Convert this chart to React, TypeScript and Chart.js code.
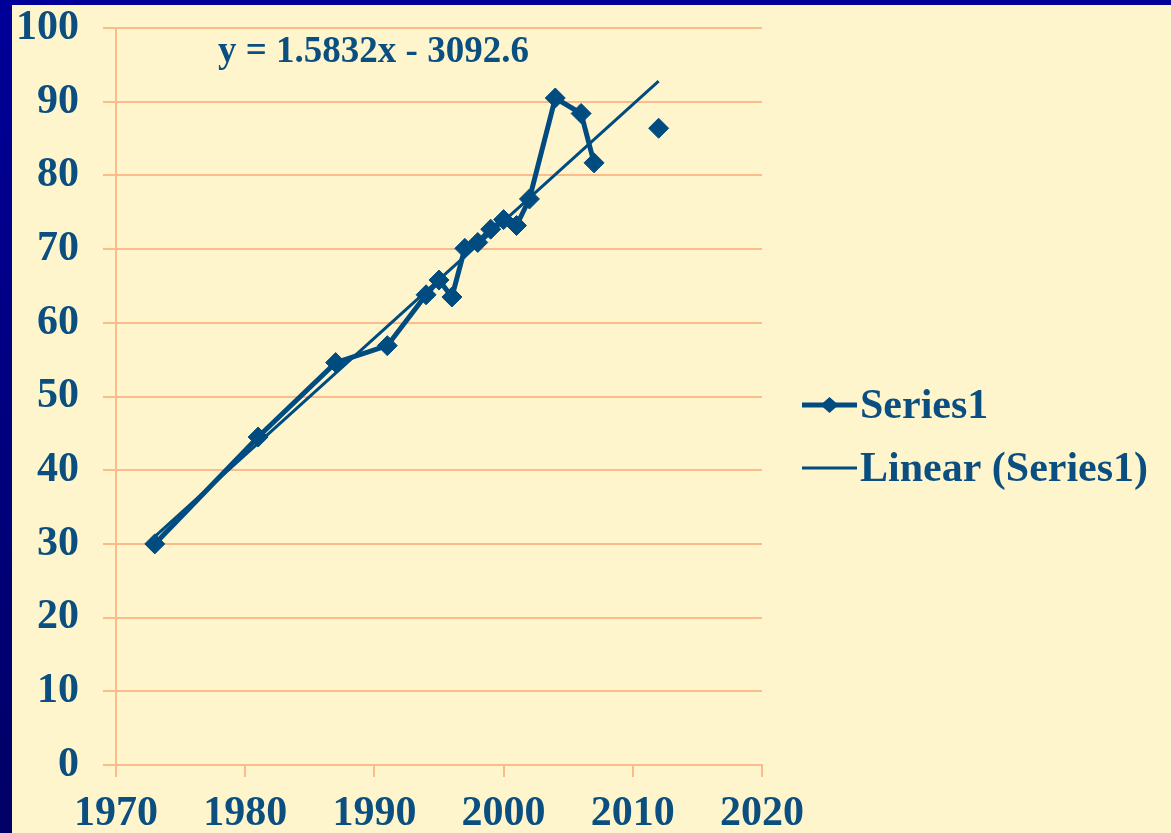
import React, { useEffect, useRef } from 'react';
import { Chart, registerables } from 'chart.js';

Chart.register(...registerables);

// ---- data ----
const years = [1973, 1981, 1987, 1991, 1994, 1995, 1996, 1997, 1998, 1999, 2000, 2001, 2002, 2004, 2006, 2007, 2009, 2012];
const values: (number | null)[] = [30.0, 44.5, 54.6, 56.9, 63.8, 65.8, 63.5, 70.1, 70.9, 72.7, 74.0, 73.2, 76.8, 90.5, 88.4, 81.7, null, 86.4];
const trendYears = [1973, 2012];
const trendValues = [31.0, 92.8];
const seriesLabel = 'Series1';
const trendLabel = 'Linear (Series1)';
const equationText = 'y = 1.5832x - 3092.6';
const xMin = 1970;
const xMax = 2020;
const xStep = 10;
const yMin = 0;
const yMax = 100;
const yStep = 10;

const W = 1171;
const H = 833;
const TEXT = '#0b4f80';
const LINE = '#004c80';
const GRID = '#fbbb8c';
const CREAM = '#fff5cd';
const FONT = '"Liberation Serif", "Times New Roman", serif';

const backgroundPlugin = {
  id: 'pptBackground',
  beforeDraw(chart: any) {
    const { ctx } = chart;
    ctx.save();
    const g = ctx.createLinearGradient(0, 0, 0, H);
    g.addColorStop(0, '#000099');
    g.addColorStop(1, '#000066');
    ctx.fillStyle = g;
    ctx.fillRect(0, 0, W, H);
    ctx.fillStyle = CREAM;
    ctx.fillRect(12, 5, W - 12, H - 5);
    ctx.restore();
  },
};

const legendPlugin = {
  id: 'customLegend',
  afterDraw(chart: any) {
    const { ctx, chartArea } = chart;
    const ds = chart.data.datasets;
    const lineX0 = chartArea.right + 40;
    const lineX1 = lineX0 + 55;
    const textX = lineX1 + 3;
    ctx.save();
    ctx.font = `bold 42px ${FONT}`;
    ctx.fillStyle = TEXT;
    ctx.textAlign = 'left';
    ctx.textBaseline = 'alphabetic';
    // Series1 entry
    let yMid = 405;
    ctx.strokeStyle = LINE;
    ctx.lineWidth = 5;
    ctx.beginPath();
    ctx.moveTo(lineX0, yMid);
    ctx.lineTo(lineX1, yMid);
    ctx.stroke();
    const cx = (lineX0 + lineX1) / 2;
    ctx.fillStyle = LINE;
    ctx.beginPath();
    ctx.moveTo(cx - 9, yMid);
    ctx.lineTo(cx, yMid - 8);
    ctx.lineTo(cx + 9, yMid);
    ctx.lineTo(cx, yMid + 8);
    ctx.closePath();
    ctx.fill();
    ctx.fillStyle = TEXT;
    ctx.fillText(ds[0].label, textX, 418);
    // Trend entry
    yMid = 468;
    ctx.lineWidth = 3;
    ctx.beginPath();
    ctx.moveTo(lineX0, yMid);
    ctx.lineTo(lineX1, yMid);
    ctx.stroke();
    ctx.fillText(ds[1].label, textX, 481);
    // Equation
    ctx.font = `bold 37px ${FONT}`;
    ctx.fillText(equationText, chartArea.left + 102, 62);
    ctx.restore();
  },
};

export default function App() {
  const ref = useRef<HTMLCanvasElement | null>(null);

  useEffect(() => {
    if (!ref.current) return;
    const chart = new Chart(ref.current, {
      type: 'line',
      data: {
        datasets: [
          {
            label: seriesLabel,
            data: years.map((x, i) => ({ x, y: values[i] })),
            borderColor: LINE,
            backgroundColor: LINE,
            borderWidth: 5,
            pointStyle: 'rectRot',
            pointRadius: 10,
            pointBorderWidth: 1,
            pointBackgroundColor: LINE,
            pointBorderColor: LINE,
            spanGaps: false,
            tension: 0,
          },
          {
            label: trendLabel,
            data: trendYears.map((x, i) => ({ x, y: trendValues[i] })),
            borderColor: LINE,
            borderWidth: 3,
            pointRadius: 0,
            tension: 0,
          },
        ],
      },
      options: {
        responsive: false,
        animation: false,
        devicePixelRatio: 1,
        layout: { padding: { left: 0, top: 28, right: W - 762, bottom: 0 } },
        plugins: {
          legend: { display: false },
          tooltip: { enabled: false },
          title: { display: false },
        },
        scales: {
          x: {
            type: 'linear',
            min: xMin,
            max: xMax,
            ticks: {
              stepSize: xStep,
              color: TEXT,
              font: { family: FONT, size: 42, weight: 'bold' },
              padding: 12,
              maxRotation: 0,
              autoSkip: false,
              callback: (v: any) => String(v),
            },
            grid: {
              drawOnChartArea: false,
              drawTicks: true,
              tickLength: 12,
              color: GRID,
              lineWidth: 2,
            },
            border: { display: true, color: GRID, width: 2 },
            afterFit: (scale: any) => {
              scale.height = 68;
            },
          },
          y: {
            type: 'linear',
            min: yMin,
            max: yMax,
            ticks: {
              stepSize: yStep,
              color: TEXT,
              font: { family: FONT, size: 42, weight: 'bold' },
              padding: 24,
            },
            grid: {
              drawOnChartArea: true,
              drawTicks: true,
              tickLength: 13,
              color: GRID,
              lineWidth: 2,
            },
            border: { display: true, color: GRID, width: 2 },
            afterFit: (scale: any) => {
              scale.width = 116;
              scale.paddingTop = 20;
              scale.paddingBottom = 20;
            },
          },
        },
      },
      plugins: [backgroundPlugin, legendPlugin],
    } as any);
    return () => chart.destroy();
  }, []);

  return (
    <div style={{ position: 'fixed', left: 0, top: 0, width: W, height: H }}>
      <canvas ref={ref} width={W} height={H} style={{ display: 'block', width: W, height: H }} />
    </div>
  );
}
